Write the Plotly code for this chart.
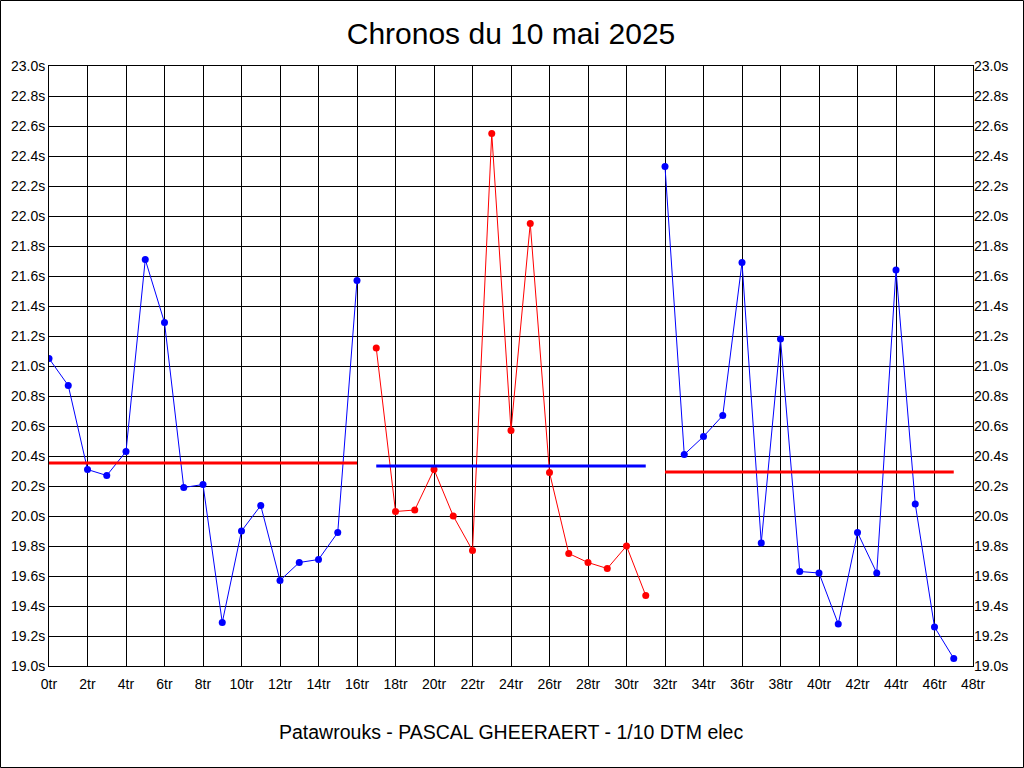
import numpy as np
import plotly.graph_objects as go

# lap times (seconds), three runs
laps_run1 = list(range(0, 17))
times_run1 = [21.05, 20.87, 20.31, 20.27, 20.43, 21.71, 21.29, 20.19, 20.21,
              19.29, 19.90, 20.07, 19.57, 19.69, 19.71, 19.89, 21.57]

laps_run2 = list(range(17, 32))
times_run2 = [21.12, 20.03, 20.04, 20.31, 20.00, 19.77, 22.55, 20.57, 21.95,
              20.29, 19.75, 19.69, 19.65, 19.80, 19.47]

laps_run3 = list(range(32, 48))
times_run3 = [22.33, 20.41, 20.53, 20.67, 21.69, 19.82, 21.18, 19.63, 19.62,
              19.28, 19.89, 19.62, 21.64, 20.08, 19.26, 19.05]

x_ticks = list(range(0, 49, 2))
x_labels = [f"{v}tr" for v in x_ticks]
y_ticks = [round(19.0 + 0.2 * i, 1) for i in range(21)]
y_labels = [f"{v:.1f}s" for v in y_ticks]

runs = [
    (laps_run1, times_run1, "blue", "red"),
    (laps_run2, times_run2, "red", "blue"),
    (laps_run3, times_run3, "blue", "red"),
]

fig = go.Figure()
for laps, times, col, avg_col in runs:
    fig.add_trace(go.Scatter(x=laps, y=times, mode="lines+markers",
                             line=dict(color=col, width=1),
                             marker=dict(color=col, size=7),
                             showlegend=False))
    avg = float(np.mean(times))
    fig.add_trace(go.Scatter(x=[laps[0], laps[-1]], y=[avg, avg], mode="lines",
                             line=dict(color=avg_col, width=3),
                             showlegend=False))

L, R, T, B = 49, 51, 66, 102
pw, ph = 1024 - L - R, 768 - T - B

axis_font = dict(family="Liberation Sans, Arial", size=14, color="black")
fig.update_xaxes(range=[0, 48], tickvals=x_ticks, ticktext=x_labels,
                 showgrid=True, gridcolor="black", gridwidth=1,
                 showline=True, linecolor="black", linewidth=1, mirror=True,
                 zeroline=False, ticks="", tickfont=axis_font, automargin=False,
                 ticklabelstandoff=5)
fig.update_yaxes(range=[19.0, 23.0], tickvals=y_ticks, ticktext=y_labels,
                 showgrid=True, gridcolor="black", gridwidth=1,
                 showline=True, linecolor="black", linewidth=1, mirror=True,
                 zeroline=False, ticks="", tickfont=axis_font, automargin=False)

# right-hand labels
fig.add_trace(go.Scatter(x=[None], y=[None], yaxis="y2", showlegend=False))
fig.update_layout(yaxis2=dict(overlaying="y", side="right", range=[19.0, 23.0],
                              tickvals=y_ticks, ticktext=y_labels,
                              showgrid=False, zeroline=False, ticks="",
                              tickfont=axis_font, automargin=False))

fig.update_layout(
    width=1024, height=768,
    margin=dict(l=L, r=R, t=T, b=B),
    paper_bgcolor="white", plot_bgcolor="white",
    title=dict(text="Chronos du 10 mai 2025", x=(L + pw / 2) / 1024, xanchor="center",
               y=1 - 33 / 768, yanchor="middle",
               font=dict(family="Liberation Sans, Arial", size=30, color="black")),
    annotations=[dict(text="Patawrouks - PASCAL GHEERAERT - 1/10 DTM elec",
                      xref="paper", yref="paper", x=0.5, y=-(732 - 666) / ph,
                      xanchor="center", yanchor="middle", showarrow=False,
                      font=dict(family="Liberation Sans, Arial", size=19.5, color="black"))],
    shapes=[dict(type="rect", xref="paper", yref="paper",
                 x0=(0.5 - L) / pw, x1=(1023.5 - L) / pw,
                 y0=-(767.5 - T - ph) / ph, y1=1 + (T - 0.5) / ph,
                 line=dict(color="black", width=1), layer="below")],
)

# the page has a default 8px body margin; drop it so the figure fills the window
fig.write_html("out.html", config={"displayModeBar": False},
               post_script="document.body.style.margin='0';"
                           "document.body.style.overflow='hidden';")
